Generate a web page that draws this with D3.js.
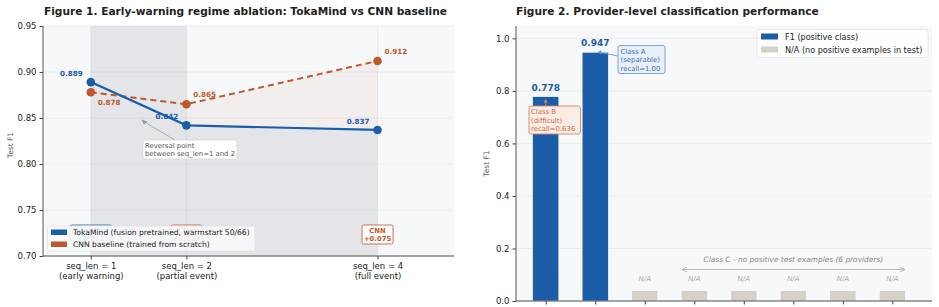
<!DOCTYPE html>
<html lang="en">
<head>
<meta charset="UTF-8" />
<title>Figures 1 and 2</title>
<script src="https://d3js.org/d3.v7.min.js"></script>
<style>
  body { margin: 0; background: #fff; font-family: "DejaVu Sans", sans-serif; }
  svg { display: block; }
  .tick text { font-family: "DejaVu Sans", sans-serif; fill: #222; }
</style>
</head>
<body>
<svg id="chart" width="939" height="307"></svg>
<script>
// ---- data ----
const seqLens = [1, 2, 4];
const seqLabels = [["seq_len = 1", "(early warning)"], ["seq_len = 2", "(partial event)"], ["seq_len = 4", "(full event)"]];
const tokaMind = [0.889, 0.842, 0.837];
const cnnBase = [0.878, 0.865, 0.912];
const gapLabels = [["TokaMind", "+0.011"], ["CNN", "+0.023"], ["CNN", "+0.075"]];
const yTicks1 = [0.70, 0.75, 0.80, 0.85, 0.90, 0.95];

const providers = ["P1", "P2", "P3", "P4", "P5", "P6", "P7", "P8"];
const providerF1 = [0.778, 0.947, null, null, null, null, null, null];
const naHeight = 0.04;
const yTicks2 = [0.0, 0.2, 0.4, 0.6, 0.8, 1.0];

const BLUE = "#1b5ea7", ORANGE = "#c0582b", BEIGE = "#d5d1c8", GRID = "#e6e7ea";

const svg = d3.select("#chart");

// ================= Figure 1 =================
const m1 = { l: 43, r: 454, t: 26, b: 256 };
const x1 = d3.scaleLinear().domain([0.5, 4.8]).range([m1.l, m1.r]);
const y1 = d3.scaleLinear().domain([0.70, 0.95]).range([m1.b, m1.t]);
const g1 = svg.append("g");

g1.append("rect").attr("x", m1.l).attr("y", m1.t).attr("width", m1.r - m1.l).attr("height", m1.b - m1.t).attr("fill", "#f7f8fa");

// grid
g1.append("g").selectAll("line").data(yTicks1).join("line")
  .attr("x1", m1.l).attr("x2", m1.r).attr("y1", d => y1(d)).attr("y2", d => y1(d))
  .attr("stroke", GRID).attr("stroke-width", 0.8);
g1.append("g").selectAll("line").data(seqLens).join("line")
  .attr("x1", d => x1(d)).attr("x2", d => x1(d)).attr("y1", m1.t).attr("y2", m1.b)
  .attr("stroke", GRID).attr("stroke-width", 0.8);

const pts = seqLens.map((s, i) => ({ s, t: tokaMind[i], c: cnnBase[i] }));

// early-warning span
g1.append("rect").attr("x", x1(1)).attr("width", x1(2) - x1(1)).attr("y", m1.t).attr("height", m1.b - m1.t)
  .attr("fill", "#9a9aa4").attr("opacity", 0.2);
// area under TokaMind (beyond the span)
g1.append("path").datum(pts.filter(d => d.s >= 2))
  .attr("d", d3.area().x(d => x1(d.s)).y0(y1(0.70)).y1(d => y1(d.t)))
  .attr("fill", "#9a9aa4").attr("opacity", 0.2);
// gap between curves
g1.append("path").datum(pts.filter(d => d.s >= 2))
  .attr("d", d3.area().x(d => x1(d.s)).y0(d => y1(d.t)).y1(d => y1(d.c)))
  .attr("fill", ORANGE).attr("opacity", 0.06);

// lines
g1.append("path").datum(pts)
  .attr("d", d3.line().x(d => x1(d.s)).y(d => y1(d.c)))
  .attr("fill", "none").attr("stroke", ORANGE).attr("stroke-width", 2).attr("stroke-dasharray", "6,4");
g1.append("path").datum(pts)
  .attr("d", d3.line().x(d => x1(d.s)).y(d => y1(d.t)))
  .attr("fill", "none").attr("stroke", BLUE).attr("stroke-width", 2.2);
g1.append("g").selectAll("circle").data(pts).join("circle")
  .attr("cx", d => x1(d.s)).attr("cy", d => y1(d.c)).attr("r", 4.3).attr("fill", ORANGE);
g1.append("g").selectAll("circle").data(pts).join("circle")
  .attr("cx", d => x1(d.s)).attr("cy", d => y1(d.t)).attr("r", 4.3).attr("fill", BLUE);

// value labels
const bl = g1.append("g").attr("font-size", 7.2).attr("font-weight", "bold");
bl.selectAll("text.tk").data(pts).join("text").attr("class", "tk")
  .attr("x", d => x1(d.s) - 8).attr("y", d => y1(d.t) - 6).attr("text-anchor", "end")
  .attr("fill", BLUE).text(d => d.t.toFixed(3));
bl.selectAll("text.cn").data(pts).join("text").attr("class", "cn")
  .attr("x", d => x1(d.s) + 7).attr("y", (d, i) => i === 0 ? y1(d.c) + 13 : y1(d.c) - 7)
  .attr("fill", ORANGE).text(d => d.c.toFixed(3));

// reversal annotation
const ann = g1.append("g");
const axp = x1(1.53), ayp = y1(0.8485);
const bx = 143, by = 140;
ann.append("line").attr("x1", 175).attr("y1", by).attr("x2", axp + 2).attr("y2", ayp + 2)
  .attr("stroke", "#999").attr("stroke-width", 0.8);
ann.append("path").attr("d", `M${axp},${ayp} l6,2 l-3.5,3 z`).attr("fill", "#999");
ann.append("rect").attr("x", bx).attr("y", by).attr("width", 94).attr("height", 19).attr("rx", 2)
  .attr("fill", "#fff").attr("stroke", "#ccc").attr("stroke-width", 0.6);
ann.append("text").attr("x", bx + 2).attr("y", by + 7.8).attr("font-size", 6.9).attr("fill", "#555").text("Reversal point");
ann.append("text").attr("x", bx + 2).attr("y", by + 16).attr("font-size", 6.9).attr("fill", "#555").text("between seq_len=1 and 2");

// gap boxes
const gb = g1.append("g");
gapLabels.forEach((lab, i) => {
  const col = lab[0] === "CNN" ? ORANGE : BLUE;
  const w = lab[0] === "CNN" ? 31 : 41;
  const cx = x1(seqLens[i]);
  gb.append("rect").attr("x", cx - w / 2).attr("y", 225).attr("width", w).attr("height", 19).attr("rx", 1.5)
    .attr("fill", "#fff").attr("stroke", col).attr("stroke-width", 0.9).attr("opacity", 0.9);
  gb.append("text").attr("x", cx).attr("y", 232.5).attr("text-anchor", "middle").attr("font-size", 6.8)
    .attr("font-weight", "bold").attr("fill", col).text(lab[0]);
  gb.append("text").attr("x", cx).attr("y", 240.8).attr("text-anchor", "middle").attr("font-size", 6.8)
    .attr("font-weight", "bold").attr("fill", col).text(lab[1]);
});

// legend (drawn on top of the first two gap boxes, as in the source)
const lg1 = g1.append("g");
lg1.append("rect").attr("x", 47.5).attr("y", 226).attr("width", 207.5).attr("height", 25).attr("rx", 2)
  .attr("fill", "#f7f8fa").attr("fill-opacity", 0.9).attr("stroke", "#dcdcdc").attr("stroke-width", 0.6);
lg1.append("rect").attr("x", 51).attr("y", 229.5).attr("width", 16).attr("height", 5.5).attr("fill", BLUE);
lg1.append("rect").attr("x", 51).attr("y", 241.5).attr("width", 16).attr("height", 5.5).attr("fill", ORANGE);
lg1.append("text").attr("x", 73).attr("y", 235.3).attr("font-size", 7.6).attr("fill", "#222").text("TokaMind (fusion pretrained, warmstart 50/66)");
lg1.append("text").attr("x", 73).attr("y", 247.3).attr("font-size", 7.6).attr("fill", "#222").text("CNN baseline (trained from scratch)");

// axes
const ya1 = g1.append("g").attr("transform", `translate(${m1.l},0)`)
  .call(d3.axisLeft(y1).tickValues(yTicks1).tickFormat(d3.format(".2f")).tickSize(3.5).tickPadding(3));
ya1.select(".domain").remove();
ya1.selectAll(".tick text").attr("font-size", 8.5);
ya1.selectAll(".tick line").attr("stroke", "#444");
const xa1 = g1.append("g").attr("transform", `translate(0,${m1.b})`)
  .call(d3.axisBottom(x1).tickValues(seqLens).tickFormat("").tickSize(3.5));
xa1.select(".domain").remove();
xa1.selectAll(".tick line").attr("stroke", "#444");
xa1.selectAll(".tick").each(function (d, i) {
  const t = d3.select(this).append("text").attr("fill", "#222").attr("font-size", 8.5).attr("text-anchor", "middle");
  t.append("tspan").attr("x", 0).attr("y", 12.5).text(seqLabels[i][0]);
  t.append("tspan").attr("x", 0).attr("y", 22.5).text(seqLabels[i][1]);
});
g1.append("line").attr("x1", m1.l).attr("x2", m1.l).attr("y1", m1.t).attr("y2", m1.b).attr("stroke", "#555").attr("stroke-width", 1);
g1.append("line").attr("x1", m1.l).attr("x2", m1.r).attr("y1", m1.b).attr("y2", m1.b).attr("stroke", "#555").attr("stroke-width", 1);

g1.append("text").attr("transform", `translate(13,${(m1.t + m1.b) / 2 + 4}) rotate(-90)`).attr("text-anchor", "middle")
  .attr("font-size", 7.5).attr("fill", "#555").text("Test F1");
g1.append("text").attr("x", 44).attr("y", 15).attr("font-size", 10.6).attr("font-weight", "bold").attr("fill", "#222")
  .text("Figure 1. Early-warning regime ablation: TokaMind vs CNN baseline");

// ================= Figure 2 =================
const m2 = { l: 516, r: 932, t: 26, b: 301 };
const x2 = d3.scaleLinear().domain([-0.6, 7.8]).range([m2.l, m2.r]);
const y2 = d3.scaleLinear().domain([0, 1.047]).range([m2.b, m2.t]);
const g2 = svg.append("g");
const bw = x2(0.53) - x2(0);

g2.append("rect").attr("x", m2.l).attr("y", m2.t).attr("width", m2.r - m2.l).attr("height", m2.b - m2.t).attr("fill", "#f7f8fa");
g2.append("g").selectAll("line").data(yTicks2).join("line")
  .attr("x1", m2.l).attr("x2", m2.r).attr("y1", d => y2(d)).attr("y2", d => y2(d))
  .attr("stroke", GRID).attr("stroke-width", 0.8);

const bars = providers.map((p, i) => ({ i, v: providerF1[i] }));
g2.append("g").selectAll("rect").data(bars).join("rect")
  .attr("x", d => x2(d.i) - bw / 2).attr("width", bw)
  .attr("y", d => y2(d.v === null ? naHeight : d.v))
  .attr("height", d => y2(0) - y2(d.v === null ? naHeight : d.v))
  .attr("fill", d => d.v === null ? BEIGE : BLUE)
  .attr("stroke", "#fff").attr("stroke-width", 0.6);

// labels
g2.append("g").selectAll("text").data(bars.filter(d => d.v !== null)).join("text")
  .attr("x", d => x2(d.i)).attr("y", d => y2(d.v) - 6).attr("text-anchor", "middle")
  .attr("font-size", 9).attr("font-weight", "bold").attr("fill", BLUE).text(d => d.v.toFixed(3));
g2.append("g").selectAll("text").data(bars.filter(d => d.v === null)).join("text")
  .attr("x", d => x2(d.i)).attr("y", y2(0.078)).attr("text-anchor", "middle")
  .attr("font-size", 7).attr("font-style", "italic").attr("fill", "#aaa").text("N/A");

// Class C bracket
const ca = g2.append("g").attr("stroke", "#aaa").attr("fill", "#aaa");
const cy = y2(0.12), cxa = x2(2.75), cxb = x2(7.25);
ca.append("line").attr("x1", cxa).attr("x2", cxb).attr("y1", cy).attr("y2", cy).attr("stroke-width", 0.8);
ca.append("path").attr("d", `M${cxa},${cy} l5,-2.3 M${cxa},${cy} l5,2.3 M${cxb},${cy} l-5,-2.3 M${cxb},${cy} l-5,2.3`)
  .attr("fill", "none").attr("stroke-width", 0.8);
g2.append("text").attr("x", x2(5)).attr("y", y2(0.15)).attr("text-anchor", "middle").attr("font-size", 7.4)
  .attr("font-style", "italic").attr("fill", "#888").text("Class C - no positive test examples (6 providers)");

// Class A callout
const cA = g2.append("g");
cA.append("line").attr("x1", x2(1) + 4).attr("y1", y2(0.947)).attr("x2", 618).attr("y2", 56).attr("stroke", "#6e9bd0").attr("stroke-width", 0.9);
cA.append("path").attr("d", `M${x2(1) + 2},${y2(0.947)} l4,-2 l0,4 z`).attr("fill", "#6e9bd0");
cA.append("rect").attr("x", 618).attr("y", 45.5).attr("width", 47).attr("height", 28).attr("rx", 2)
  .attr("fill", "#e9eff8").attr("stroke", "#6e9bd0").attr("stroke-width", 0.9);
["Class A", "(separable)", "recall=1.00"].forEach((s, k) => {
  cA.append("text").attr("x", 620.5).attr("y", 53.8 + k * 8.4).attr("font-size", 6.9).attr("fill", "#3d6fb0").text(s);
});

// Class B callout
const cB = g2.append("g");
cB.append("line").attr("x1", x2(0)).attr("y1", 106).attr("x2", x2(0)).attr("y2", y2(0.778) + 4).attr("stroke", "#d9825c").attr("stroke-width", 0.9);
cB.append("path").attr("d", `M${x2(0)},${y2(0.778) + 2} l-2,4 l4,0 z`).attr("fill", "#d9825c");
cB.append("rect").attr("x", 529).attr("y", 106).attr("width", 51.5).attr("height", 28).attr("rx", 2)
  .attr("fill", "#fbece5").attr("stroke", "#d9825c").attr("stroke-width", 0.9);
["Class B", "(difficult)", "recall=0.636"].forEach((s, k) => {
  cB.append("text").attr("x", 531).attr("y", 114.3 + k * 8.4).attr("font-size", 6.9).attr("fill", "#cc6a40").text(s);
});

// legend
const lg2 = g2.append("g");
lg2.append("rect").attr("x", 757).attr("y", 29.5).attr("width", 171).attr("height", 28).attr("rx", 2)
  .attr("fill", "#fff").attr("fill-opacity", 0.85).attr("stroke", "#dcdcdc").attr("stroke-width", 0.6);
lg2.append("rect").attr("x", 761).attr("y", 33.5).attr("width", 17).attr("height", 6).attr("fill", BLUE);
lg2.append("rect").attr("x", 761).attr("y", 46.5).attr("width", 17).attr("height", 6).attr("fill", BEIGE);
lg2.append("text").attr("x", 785).attr("y", 39.8).attr("font-size", 8.1).attr("fill", "#222").text("F1 (positive class)");
lg2.append("text").attr("x", 785).attr("y", 52.8).attr("font-size", 8.1).attr("fill", "#222").text("N/A (no positive examples in test)");

// axes
const ya2 = g2.append("g").attr("transform", `translate(${m2.l},0)`)
  .call(d3.axisLeft(y2).tickValues(yTicks2).tickFormat(d3.format(".1f")).tickSize(3.5).tickPadding(3));
ya2.select(".domain").remove();
ya2.selectAll(".tick text").attr("font-size", 8.5);
ya2.selectAll(".tick line").attr("stroke", "#444");
const xa2 = g2.append("g").attr("transform", `translate(0,${m2.b})`)
  .call(d3.axisBottom(x2).tickValues(d3.range(providers.length)).tickFormat("").tickSize(3.5));
xa2.select(".domain").remove();
xa2.selectAll(".tick line").attr("stroke", "#444");
g2.append("line").attr("x1", m2.l).attr("x2", m2.l).attr("y1", m2.t).attr("y2", m2.b).attr("stroke", "#555").attr("stroke-width", 1);
g2.append("line").attr("x1", m2.l).attr("x2", m2.r).attr("y1", m2.b).attr("y2", m2.b).attr("stroke", "#555").attr("stroke-width", 1);

g2.append("text").attr("transform", `translate(489,${(m2.t + m2.b) / 2}) rotate(-90)`).attr("text-anchor", "middle")
  .attr("font-size", 7.5).attr("fill", "#555").text("Test F1");
g2.append("text").attr("x", 516).attr("y", 15).attr("font-size", 10.6).attr("font-weight", "bold").attr("fill", "#222")
  .text("Figure 2. Provider-level classification performance");
</script>
</body>
</html>
